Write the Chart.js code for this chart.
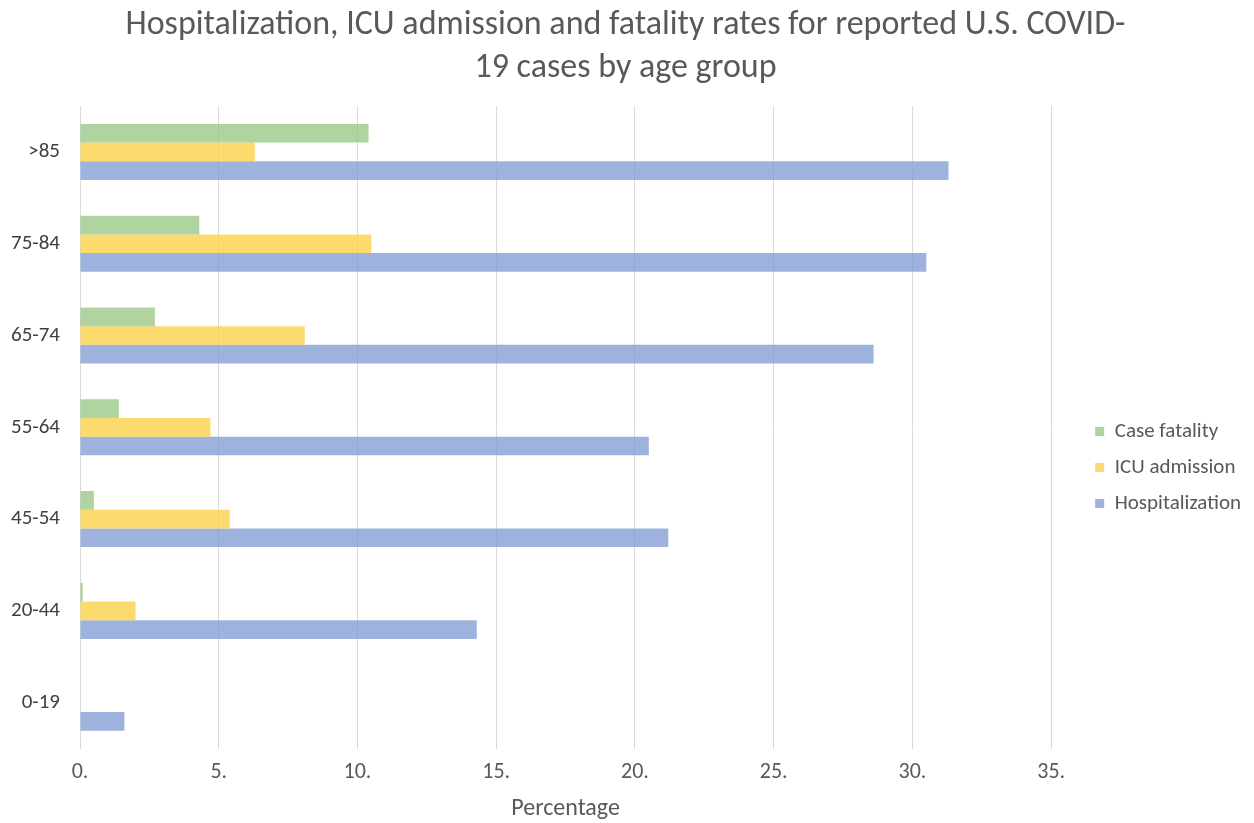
<!DOCTYPE html>
<html>
<head>
<meta charset="utf-8">
<title>COVID-19 rates by age group</title>
<script src="https://cdn.jsdelivr.net/npm/chart.js@4.4.1/dist/chart.umd.min.js"></script>
<style>
  html, body { margin: 0; padding: 0; background: #ffffff; }
  #wrap { width: 1254px; height: 823px; }
</style>
</head>
<body>
<div id="wrap"><canvas id="chart" width="1254" height="823"></canvas></div>
<script>
// Age groups, listed top to bottom as they appear on the chart
const ageGroups = ['>85', '75-84', '65-74', '55-64', '45-54', '20-44', '0-19'];

// Rates per age group (percent of reported cases)
const caseFatality    = [10.4, 4.3, 2.7, 1.4, 0.5, 0.1, 0];
const icuAdmission    = [6.3, 10.5, 8.1, 4.7, 5.4, 2.0, 0];
const hospitalization = [31.3, 30.5, 28.6, 20.5, 21.2, 14.3, 1.6];

// Value axis tick positions
const xTicks = [0, 5, 10, 15, 20, 25, 30, 35];

const FONT = 'Carlito, Lato, "Open Sans", sans-serif';

new Chart(document.getElementById('chart'), {
  type: 'bar',
  data: {
    labels: ageGroups,
    datasets: [
      { label: 'Case fatality',   data: caseFatality,    backgroundColor: 'rgba(156, 201, 136, 0.8)' },
      { label: 'ICU admission',   data: icuAdmission,    backgroundColor: 'rgba(251, 209, 74, 0.8)' },
      { label: 'Hospitalization', data: hospitalization, backgroundColor: 'rgba(133, 160, 214, 0.8)' }
    ]
  },
  options: {
    indexAxis: 'y',
    responsive: false,
    animation: false,
    events: [],
    datasets: { bar: { categoryPercentage: 0.61, barPercentage: 1.0, borderWidth: 0 } },
    layout: { padding: { left: 0, right: 3, top: 0, bottom: 2 } },
    plugins: {
      title: {
        display: true,
        text: ['Hospitalization, ICU admission and fatality rates for reported U.S. COVID-', '19 cases by age group'],
        color: '#595959',
        font: { family: FONT, size: 34, weight: 'normal', lineHeight: 1.265 },
        padding: { top: 4, bottom: 16 }
      },
      legend: {
        position: 'right',
        align: 'center',
        // empty legend title used as a spacer so the items sit level with the plot's middle
        title: {
          display: true,
          text: '',
          font: { family: FONT, size: 10, lineHeight: 1 },
          padding: { top: 104, bottom: 0 }
        },
        labels: {
          color: '#595959',
          font: { family: FONT, size: 21 },
          boxWidth: 9,
          boxHeight: 9,
          padding: 15
        }
      },
      tooltip: { enabled: false }
    },
    scales: {
      x: {
        type: 'linear',
        min: 0,
        max: 35,
        afterBuildTicks: (s) => { s.ticks = xTicks.map(v => ({ value: v })); },
        ticks: {
          color: '#595959',
          font: { family: FONT, size: 22 },
          padding: 11,
          callback: (v) => v + '.'
        },
        grid: { color: '#d9d9d9', lineWidth: 1, drawTicks: false },
        border: { display: false },
        title: {
          display: true,
          text: 'Percentage',
          color: '#595959',
          font: { family: FONT, size: 24, lineHeight: 1 },
          padding: { top: 0, bottom: 0 }
        }
      },
      y: {
        afterFit: (s) => { s.width = 80; },
        ticks: {
          color: '#404040',
          font: { family: FONT, size: 21 },
          padding: 12
        },
        grid: { display: false },
        border: { display: false }
      },
      gap: {
        type: 'linear',
        position: 'right',
        display: true,
        afterFit: (s) => { s.width = 29; },
        ticks: { display: false },
        grid: { display: false },
        border: { display: false }
      }
    }
  }
});
</script>
</body>
</html>
